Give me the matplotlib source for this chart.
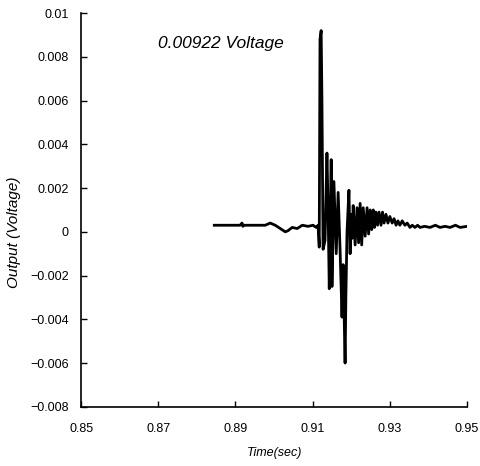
import numpy as np
import matplotlib.pyplot as plt

plt.rcParams['font.family'] = ['Liberation Sans', 'DejaVu Sans']

# Signal (time in sec, output in volts)
t = [0.8845, 0.8912, 0.8917, 0.8919, 0.8921, 0.8977, 0.8990, 0.9003, 0.9016,
     0.9029, 0.9036, 0.9047, 0.9060, 0.9073, 0.9088, 0.9101, 0.9109, 0.9114,
     0.9117, 0.9119, 0.9122, 0.9124, 0.9127, 0.9132, 0.9137, 0.9140, 0.9143,
     0.9148, 0.9150, 0.9155, 0.9161, 0.9166, 0.9171, 0.9176, 0.9179, 0.9184,
     0.9186, 0.9189, 0.9194, 0.9197, 0.9200, 0.9202, 0.9205, 0.9210, 0.9215,
     0.9219, 0.9223, 0.9227, 0.9231, 0.9236, 0.9241, 0.9245, 0.9249, 0.9253,
     0.9257, 0.9260, 0.9264, 0.9268, 0.9272, 0.9277, 0.9281, 0.9285, 0.9290,
     0.9295, 0.9300, 0.9306, 0.9311, 0.9316, 0.9321, 0.9326, 0.9332, 0.9339,
     0.9345, 0.9352, 0.9358, 0.9365, 0.9372, 0.9378, 0.9390, 0.9404, 0.9418,
     0.9430, 0.9443, 0.9456, 0.9470, 0.9482, 0.9500]
v = [0.0003, 0.0003, 0.0004, 0.00025, 0.0003, 0.0003, 0.0004, 0.0003, 0.00015,
     0.0000, 0.00005, 0.0002, 0.00015, 0.0003, 0.00025, 0.0003, 0.0002, 0.0003,
     -0.0007, 0.0088, 0.0092, 0.0060, -0.0008, -0.0004, 0.0036, 0.0010, -0.0026,
     0.0033, -0.0025, 0.0023, -0.0010, 0.0018, -0.0008, -0.0039, -0.0015, -0.0060,
     -0.0030, 0.0000, 0.0019, -0.0010, 0.0008, -0.0003, 0.0012, -0.0006, 0.0011,
     -0.0005, 0.0013, -0.0006, 0.0011, -0.0002, 0.0011, -0.0001, 0.0010, 0.0001,
     0.0010, 0.0002, 0.0009, 0.0003, 0.0009, 0.0003, 0.0009, 0.0004, 0.0008,
     0.0004, 0.0007, 0.0004, 0.0006, 0.0003, 0.0005, 0.0003, 0.0005, 0.0003,
     0.0004, 0.0002, 0.0003, 0.0002, 0.0003, 0.0002, 0.00025, 0.0002, 0.0003,
     0.0002, 0.00025, 0.0002, 0.0003, 0.0002, 0.00025]

xticks = [0.85, 0.87, 0.89, 0.91, 0.93, 0.95]
yticks = [0.01, 0.008, 0.006, 0.004, 0.002, 0, -0.002, -0.004, -0.006, -0.008]
ytick_labels = ['0.01', '0.008', '0.006', '0.004', '0.002', '0',
                '\u22120.002', '\u22120.004', '\u22120.006', '\u22120.008']
peak_text = '0.00922 Voltage'

fig = plt.figure(figsize=(4.8, 4.66), dpi=100)
ax = fig.add_axes([0.169, 0.127, 0.804, 0.845])

ax.plot(t, v, color='black', lw=2.0)

ax.set_xlim(0.85, 0.95)
ax.set_ylim(-0.008, 0.01)
ax.set_xticks(xticks)
ax.set_xticklabels([f'{x:.2f}' for x in xticks])
ax.set_yticks(yticks)
ax.set_yticklabels(ytick_labels)
ax.tick_params(direction='in', length=4, width=1, labelsize=9, pad=9)
ax.tick_params(axis='x', pad=12)

for side in ['top', 'right']:
    ax.spines[side].set_visible(False)
for side in ['left', 'bottom']:
    ax.spines[side].set_linewidth(1.2)

ax.set_xlabel('Time(sec)', fontsize=9, style='italic', labelpad=8)
ax.set_ylabel('Output (Voltage)', fontsize=11, style='italic')
ax.yaxis.set_label_coords(-0.155, 0.444)

ax.text(0.87, 0.00863, peak_text, fontsize=12.5, style='italic',
        ha='left', va='center')

plt.savefig('out.png', dpi=100)
